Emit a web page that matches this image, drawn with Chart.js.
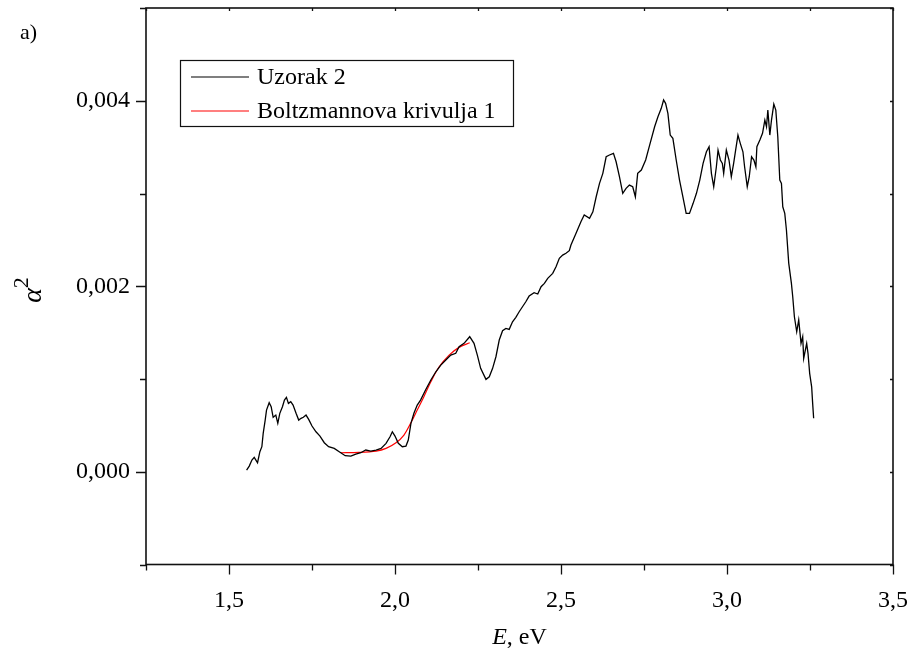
<!DOCTYPE html>
<html>
<head>
<meta charset="utf-8">
<script src="https://cdn.jsdelivr.net/npm/chart.js@4.4.1/dist/chart.umd.min.js"></script>
<style>
  html, body { margin: 0; padding: 0; background: #fff; }
  #wrap { width: 915px; height: 657px; }
</style>
</head>
<body>
<div id="wrap"><canvas id="chart" width="915" height="657"></canvas></div>
<script>
// measured spectrum (Uzorak 2)
const energy = [
  1.553, 1.561, 1.569, 1.576, 1.581, 1.586, 1.593, 1.599, 1.603, 1.609,
  1.613, 1.621, 1.627, 1.633, 1.641, 1.647, 1.653, 1.661, 1.667, 1.673,
  1.679, 1.686, 1.693, 1.702, 1.710, 1.717, 1.724, 1.732, 1.740, 1.750,
  1.762, 1.774, 1.787, 1.800, 1.817, 1.832, 1.850, 1.867, 1.882, 1.897,
  1.912, 1.927, 1.943, 1.958, 1.973, 1.985, 1.992, 2.000, 2.010, 2.022,
  2.033, 2.040, 2.048, 2.057, 2.067, 2.077, 2.092, 2.108, 2.123, 2.138,
  2.153, 2.168, 2.183, 2.193, 2.208, 2.225, 2.238, 2.248, 2.258, 2.274,
  2.284, 2.294, 2.304, 2.314, 2.324, 2.334, 2.344, 2.354, 2.364, 2.374,
  2.384, 2.394, 2.404, 2.419, 2.430, 2.440, 2.450, 2.460, 2.475, 2.485,
  2.495, 2.505, 2.515, 2.525, 2.530, 2.545, 2.560, 2.570, 2.586, 2.596,
  2.606, 2.616, 2.626, 2.636, 2.646, 2.658, 2.666, 2.676, 2.686, 2.696,
  2.706, 2.716, 2.724, 2.731, 2.742, 2.755, 2.767, 2.782, 2.792, 2.802,
  2.809, 2.815, 2.822, 2.829, 2.837, 2.847, 2.857, 2.867, 2.877, 2.887,
  2.898, 2.908, 2.918, 2.928, 2.938, 2.946, 2.953, 2.960, 2.968, 2.973,
  2.980, 2.986, 2.990, 2.998, 3.006, 3.013, 3.020, 3.026, 3.033, 3.040,
  3.048, 3.053, 3.061, 3.067, 3.074, 3.081, 3.087, 3.090, 3.099, 3.107,
  3.114, 3.119, 3.123, 3.129, 3.134, 3.141, 3.147, 3.153, 3.159, 3.164,
  3.168, 3.174, 3.179, 3.186, 3.194, 3.198, 3.203, 3.210, 3.216, 3.223,
  3.228, 3.231, 3.240, 3.244, 3.249, 3.255, 3.258, 3.261
];
const alphaSq = [
  0.000018, 0.000061, 0.000126, 0.000155, 0.000126, 0.000097, 0.000216, 0.000270, 0.000414, 0.000557,
  0.000665, 0.000744, 0.000701, 0.000587, 0.000611, 0.000522, 0.000630, 0.000701, 0.000773, 0.000802,
  0.000737, 0.000755, 0.000719, 0.000630, 0.000557, 0.000576, 0.000587, 0.000611, 0.000565, 0.000493,
  0.000431, 0.000385, 0.000313, 0.000270, 0.000252, 0.000216, 0.000173, 0.000169, 0.000191, 0.000205,
  0.000234, 0.000223, 0.000234, 0.000252, 0.000306, 0.000377, 0.000431, 0.000385, 0.000306, 0.000270,
  0.000277, 0.000342, 0.000522, 0.000630, 0.000719, 0.000773, 0.000881, 0.000989, 0.001078, 0.001150,
  0.001204, 0.001258, 0.001277, 0.001348, 0.001384, 0.001456, 0.001384, 0.001258, 0.001115, 0.000996,
  0.001024, 0.001115, 0.001240, 0.001420, 0.001520, 0.001546, 0.001535, 0.001617, 0.001665, 0.001725,
  0.001779, 0.001833, 0.001894, 0.001930, 0.001916, 0.001995, 0.002031, 0.002085, 0.002139, 0.002210,
  0.002301, 0.002336, 0.002355, 0.002383, 0.002444, 0.002570, 0.002695, 0.002768, 0.002732, 0.002803,
  0.002965, 0.003109, 0.003217, 0.003396, 0.003415, 0.003433, 0.003342, 0.003181, 0.003002, 0.003056,
  0.003091, 0.003073, 0.002965, 0.003217, 0.003253, 0.003361, 0.003522, 0.003720, 0.003828, 0.003918,
  0.004008, 0.003972, 0.003864, 0.003630, 0.003595, 0.003361, 0.003145, 0.002965, 0.002786, 0.002786,
  0.002894, 0.003002, 0.003145, 0.003325, 0.003450, 0.003504, 0.003217, 0.003073, 0.003288, 0.003468,
  0.003361, 0.003325, 0.003217, 0.003468, 0.003361, 0.003181, 0.003325, 0.003468, 0.003630, 0.003541,
  0.003450, 0.003288, 0.003073, 0.003181, 0.003396, 0.003361, 0.003288, 0.003504, 0.003576, 0.003649,
  0.003792, 0.003720, 0.003900, 0.003630, 0.003792, 0.003964, 0.003900, 0.003612, 0.003145, 0.003109,
  0.002857, 0.002786, 0.002606, 0.002247, 0.002031, 0.001887, 0.001671, 0.001509, 0.001636, 0.001384,
  0.001456, 0.001223, 0.001384, 0.001277, 0.001061, 0.000916, 0.000737, 0.000576
];

// Boltzmann fit
const fitEnergy = [1.837, 1.891, 1.943, 1.973, 2.003, 2.027, 2.047, 2.067, 2.087, 2.108, 2.133, 2.163, 2.193, 2.225];
const fitAlphaSq = [0.000205, 0.000209, 0.000223, 0.000252, 0.000313, 0.000396, 0.000522, 0.000665, 0.000809, 0.000970, 0.001132, 0.001258, 0.001341, 0.001391];

const seriesNames = ["Uzorak 2", "Boltzmannova krivulja 1"];
const seriesColors = ["#000000", "#ff0000"];

const xMajor = [1.5, 2.0, 2.5, 3.0, 3.5];
const xMinor = [1.25, 1.75, 2.25, 2.75, 3.25];
const yMajor = [0.000, 0.002, 0.004];
const yMinor = [-0.001, 0.001, 0.003, 0.005];

const FONT = "'Liberation Serif', 'Times New Roman', serif";

const toPoints = (xs, ys) => xs.map((v, i) => ({ x: v, y: ys[i] }));

// axis frame + Origin style ticks (out on bottom/left, in on top/right)
const framePlugin = {
  id: 'frame',
  afterDraw(chart) {
    const { ctx, chartArea: a, scales: { x, y } } = chart;
    ctx.save();
    ctx.strokeStyle = '#111';
    ctx.lineWidth = 1.6;
    ctx.strokeRect(a.left, a.top, a.right - a.left, a.bottom - a.top);

    ctx.lineWidth = 1.3;
    ctx.beginPath();
    const xt = (vals, len, inner) => vals.forEach(v => {
      const px = Math.round(x.getPixelForValue(v)) + 0.5;
      ctx.moveTo(px, a.bottom); ctx.lineTo(px, a.bottom + len);
      ctx.moveTo(px, a.top); ctx.lineTo(px, a.top + inner);
    });
    const yt = (vals, len, inner) => vals.forEach(v => {
      const py = Math.round(y.getPixelForValue(v)) + 0.5;
      ctx.moveTo(a.left, py); ctx.lineTo(a.left - len, py);
      ctx.moveTo(a.right, py); ctx.lineTo(a.right - inner, py);
    });
    xt(xMajor, 10, 3);
    xt(xMinor, 6, 3);
    yt(yMajor, 10, 3);
    yt(yMinor, 6, 3);
    ctx.stroke();

    // legend box
    ctx.lineWidth = 1.2;
    ctx.strokeRect(180.5, 60.5, 333, 66);
    ctx.font = '24px ' + FONT;
    ctx.textBaseline = 'middle';
    ctx.textAlign = 'left';
    seriesNames.forEach((name, i) => {
      const ly = 77 + i * 34;
      ctx.strokeStyle = seriesColors[i];
      ctx.lineWidth = 1.2;
      ctx.beginPath();
      ctx.moveTo(191, ly); ctx.lineTo(249, ly);
      ctx.stroke();
      ctx.fillStyle = '#000';
      ctx.fillText(name, 257, ly + 1);
    });

    // panel label
    ctx.fillStyle = '#000';
    ctx.font = '22px ' + FONT;
    ctx.fillText('a)', 20, 33);

    // x axis title: italic E, then ", eV"
    ctx.textBaseline = 'alphabetic';
    ctx.font = 'italic 24px ' + FONT;
    const wE = ctx.measureText('E').width;
    ctx.font = '24px ' + FONT;
    const wRest = ctx.measureText(', eV').width;
    const cx = (a.left + a.right) / 2;
    let sx = cx - (wE + wRest) / 2;
    ctx.font = 'italic 24px ' + FONT;
    ctx.fillText('E', sx, 644);
    ctx.font = '24px ' + FONT;
    ctx.fillText(', eV', sx + wE, 644);

    // y axis title: italic alpha with superscript 2
    ctx.save();
    ctx.translate(32, 290);
    ctx.rotate(-Math.PI / 2);
    ctx.font = 'italic 28px ' + FONT;
    const wA = ctx.measureText('α').width;
    ctx.font = '22px ' + FONT;
    const w2 = ctx.measureText('2').width;
    const sx2 = -(wA + w2) / 2;
    ctx.font = 'italic 28px ' + FONT;
    ctx.fillText('α', sx2, 9);
    ctx.font = '22px ' + FONT;
    ctx.fillText('2', sx2 + wA, -4);
    ctx.restore();

    ctx.restore();
  }
};

new Chart(document.getElementById('chart'), {
  type: 'line',
  data: {
    datasets: [
      {
        label: seriesNames[0],
        data: toPoints(energy, alphaSq),
        borderColor: seriesColors[0],
        borderWidth: 1.3,
        pointRadius: 0,
        tension: 0
      },
      {
        label: seriesNames[1],
        data: toPoints(fitEnergy, fitAlphaSq),
        borderColor: seriesColors[1],
        borderWidth: 1.2,
        pointRadius: 0,
        tension: 0.3
      }
    ]
  },
  options: {
    responsive: false,
    animation: false,
    devicePixelRatio: 1,
    layout: { padding: { left: 0, right: 22, top: 8, bottom: 0 } },
    plugins: { legend: { display: false }, tooltip: { enabled: false } },
    scales: {
      x: {
        type: 'linear',
        min: 1.25,
        max: 3.5,
        afterBuildTicks: s => { s.ticks = xMajor.map(v => ({ value: v })); },
        afterFit: s => {
          s.height = 92.5;
          s.paddingLeft = 0; s.paddingRight = 0;
        },
        grid: { display: false, drawTicks: false },
        border: { display: false },
        ticks: {
          padding: 22,
          color: '#000',
          font: { family: FONT, size: 24 },
          maxRotation: 0,
          callback: v => v.toFixed(1).replace('.', ',')
        }
      },
      y: {
        type: 'linear',
        min: -0.001,
        max: 0.005,
        afterBuildTicks: s => { s.ticks = yMajor.map(v => ({ value: v })); },
        afterFit: s => {
          s.width = 146;
          s.paddingTop = 0; s.paddingBottom = 0;
        },
        grid: { display: false, drawTicks: false },
        border: { display: false },
        ticks: {
          padding: 16,
          color: '#000',
          font: { family: FONT, size: 24 },
          callback: v => v.toFixed(3).replace('.', ',')
        }
      }
    }
  },
  plugins: [framePlugin]
});
</script>
</body>
</html>
